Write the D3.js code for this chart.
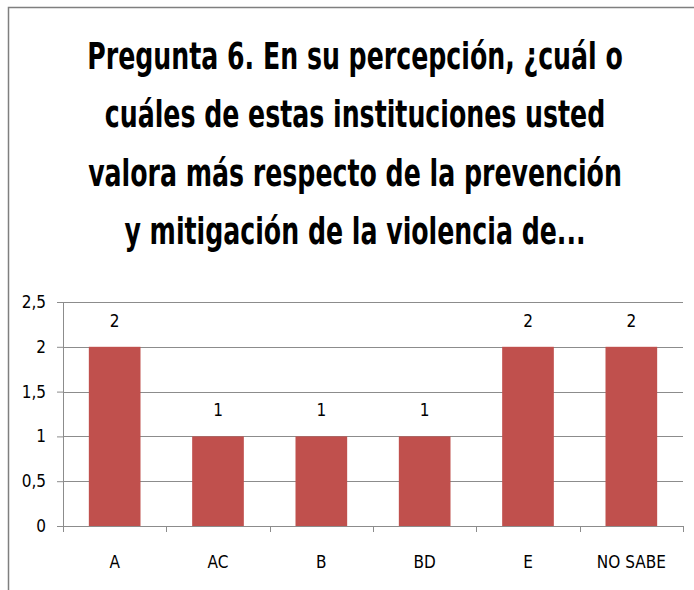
<!DOCTYPE html>
<html>
<head>
<meta charset="utf-8">
<script src="https://cdn.jsdelivr.net/npm/d3@7"></script>
<style>
  body { margin: 0; background: #fff; }
  svg { display: block; }
  .axis text { font-family: 'Liberation Sans Narrow', 'DejaVu Sans Condensed', sans-serif; font-size: 17px; fill: #000; }
</style>
</head>
<body>
<div id="chart"></div>
<script>
const WIDTH = 694
const HEIGHT = 590
const BAR_COLOR = '#c0504d'
const GRID_COLOR = '#8c8c8c'
const FONT = "'Liberation Sans Narrow', 'DejaVu Sans Condensed', sans-serif"

const TITLE_LINES = [
  'Pregunta 6. En su percepción, ¿cuál o',
  'cuáles de estas instituciones usted',
  'valora más respecto de la prevención',
  'y mitigación de la violencia de...'
]
const CATEGORIES = ['A', 'AC', 'B', 'BD', 'E', 'NO SABE']
const VALUES = [2, 1, 1, 1, 2, 2]
const Y_TICKS = [0, 0.5, 1, 1.5, 2, 2.5]

const margin = {left: 63, right: 11, top: 302, bottom: 64}
const plotW = WIDTH - margin.left - margin.right
const plotH = HEIGHT - margin.top - margin.bottom

const svg = d3.select('#chart').append('svg')
  .attr('width', WIDTH).attr('height', HEIGHT)

// 外框
svg.append('rect')
  .attr('x', 8.5).attr('y', 7.5)
  .attr('width', WIDTH + 20).attr('height', HEIGHT + 20)
  .attr('fill', 'none').attr('stroke', '#7f7f7f').attr('stroke-width', 1.5)

// 标题
const title = svg.append('g')
TITLE_LINES.forEach((t, i) => {
  title.append('text')
    .attr('x', 355).attr('y', 69 + i * 58.5)
    .attr('text-anchor', 'middle')
    .attr('font-family', FONT)
    .attr('font-weight', 'bold')
    .attr('font-size', 38)
    .text(t)
})
// 按第三行宽度横向拉伸
const widest = title.selectAll('text').nodes()[2].getComputedTextLength()
const sx = 534 / widest
title.attr('transform', `translate(${355 * (1 - sx)},0) scale(${sx},1)`)

const g = svg.append('g').attr('transform', `translate(${margin.left},${margin.top})`)

const x = d3.scaleBand().domain(CATEGORIES).range([0, plotW])
  .paddingInner(0.5).paddingOuter(0.25)
const y = d3.scaleLinear().domain([0, 2.5]).range([plotH, 0])

// 水平网格线
g.append('g')
  .selectAll('line').data(Y_TICKS).join('line')
  .attr('x1', 0).attr('x2', plotW)
  .attr('y1', d => Math.round(y(d)) + 0.5).attr('y2', d => Math.round(y(d)) + 0.5)
  .attr('stroke', GRID_COLOR)

// Y 轴
const yAxis = g.append('g').attr('class', 'axis')
  .call(d3.axisLeft(y).tickValues(Y_TICKS).tickSizeInner(6).tickSizeOuter(0).tickPadding(11)
    .tickFormat(d => String(d).replace('.', ',')))
yAxis.select('.domain').attr('stroke', GRID_COLOR)
yAxis.selectAll('.tick line').attr('stroke', GRID_COLOR)

// 柱子
g.append('g').selectAll('rect').data(VALUES).join('rect')
  .attr('x', (d, i) => x(CATEGORIES[i]))
  .attr('y', d => y(d))
  .attr('width', x.bandwidth())
  .attr('height', d => plotH - y(d))
  .attr('fill', BAR_COLOR)

// 数据标签
g.append('g').selectAll('text').data(VALUES).join('text')
  .attr('x', (d, i) => x(CATEGORIES[i]) + x.bandwidth() / 2)
  .attr('y', d => y(d) - 20)
  .attr('text-anchor', 'middle')
  .attr('font-family', FONT).attr('font-size', 17)
  .text(d => d)

// X 轴
const xAxis = g.append('g').attr('class', 'axis')
  .attr('transform', `translate(0,${plotH})`)
  .call(d3.axisBottom(x).tickSize(0).tickPadding(30))
xAxis.select('.domain').attr('stroke', GRID_COLOR)
  .attr('d', `M0.5,0.5H${plotW}`)

// 类别分隔刻度
const step = x.step()
const edge = i => Math.round(i * step) + 0.5
g.append('g').selectAll('line').data(d3.range(CATEGORIES.length + 1)).join('line')
  .attr('x1', edge).attr('x2', edge)
  .attr('y1', plotH).attr('y2', plotH + 6)
  .attr('stroke', GRID_COLOR)
</script>
</body>
</html>
